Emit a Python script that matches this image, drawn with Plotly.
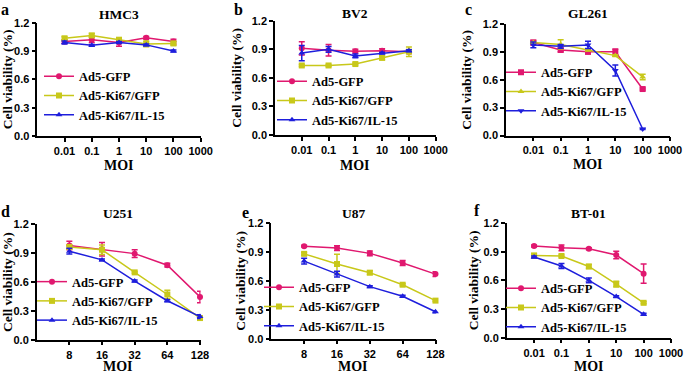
import plotly.graph_objects as go
import math

W, H = 685, 374

# ---------------- data ----------------
moi_log = [0.01, 0.1, 1, 10, 100]
moi_lin = [8, 16, 32, 64, 128]
log_ticks = [0.01, 0.1, 1, 10, 100, 1000]
log_ticktext = ["0.01", "0.1", "1", "10", "100", "1000"]
lin_ticks = [8, 16, 32, 64, 128]
lin_ticktext = ["8", "16", "32", "64", "128"]
y_ticks = [0.0, 0.3, 0.6, 0.9, 1.2]

series_names = ["Ad5-GFP", "Ad5-Ki67/GFP", "Ad5-Ki67/IL-15"]

hmc3_gfp = [1.00, 1.02, 0.99, 1.04, 1.00]
hmc3_gfp_err = [0.02, 0.03, 0.04, 0.015, 0.025]
hmc3_ki67 = [1.035, 1.065, 1.02, 0.975, 0.98]
hmc3_ki67_err = [0.015, 0.02, 0.02, 0.03, 0.02]
hmc3_il15 = [0.99, 0.96, 0.99, 0.965, 0.90]
hmc3_il15_err = [0.015, 0.01, 0.01, 0.01, 0.01]

bv2_gfp = [0.91, 0.89, 0.88, 0.885, 0.875]
bv2_gfp_err = [0.07, 0.06, 0.02, 0.02, 0.02]
bv2_ki67 = [0.73, 0.73, 0.745, 0.81, 0.875]
bv2_ki67_err = [0.01, 0.01, 0.01, 0.02, 0.05]
bv2_il15 = [0.86, 0.90, 0.83, 0.86, 0.885]
bv2_il15_err = [0.08, 0.03, 0.02, 0.01, 0.01]

gl261_gfp = [1.00, 0.92, 0.90, 0.90, 0.50]
gl261_gfp_err = [0.025, 0.02, 0.02, 0.03, 0.01]
gl261_ki67 = [1.00, 0.98, 0.92, 0.86, 0.63]
gl261_ki67_err = [0.01, 0.05, 0.01, 0.01, 0.03]
gl261_il15 = [0.975, 0.96, 0.975, 0.70, 0.07]
gl261_il15_err = [0.03, 0.02, 0.04, 0.06, 0.005]

u251_gfp = [0.98, 0.94, 0.895, 0.775, 0.445]
u251_gfp_err = [0.045, 0.07, 0.04, 0.02, 0.06]
u251_ki67 = [0.965, 0.935, 0.70, 0.47, 0.225]
u251_ki67_err = [0.02, 0.05, 0.01, 0.045, 0.02]
u251_il15 = [0.92, 0.83, 0.61, 0.405, 0.24]
u251_il15_err = [0.03, 0.01, 0.01, 0.01, 0.02]

u87_gfp = [0.96, 0.94, 0.885, 0.785, 0.67]
u87_gfp_err = [0.01, 0.025, 0.025, 0.025, 0.025]
u87_ki67 = [0.88, 0.775, 0.685, 0.56, 0.395]
u87_ki67_err = [0.015, 0.10, 0.02, 0.01, 0.01]
u87_il15 = [0.805, 0.67, 0.54, 0.44, 0.28]
u87_il15_err = [0.03, 0.03, 0.01, 0.01, 0.01]

bt01_gfp = [0.96, 0.94, 0.93, 0.865, 0.67]
bt01_gfp_err = [0.01, 0.03, 0.01, 0.04, 0.10]
bt01_ki67 = [0.86, 0.855, 0.745, 0.56, 0.365]
bt01_ki67_err = [0.02, 0.01, 0.02, 0.03, 0.01]
bt01_il15 = [0.845, 0.75, 0.60, 0.43, 0.245]
bt01_il15_err = [0.01, 0.025, 0.025, 0.01, 0.01]

# ---------------- style ----------------
PINK = "#E0186F"
YELLOW = "#C8C81A"
BLUE = "#1E1EDC"
colors = [PINK, YELLOW, BLUE]
sym_default = ["circle", "square", "triangle-up"]
sym_c = ["square", "triangle-up", "triangle-down"]

SERIF = "Liberation Serif"
SANS = "Liberation Sans"


def px_x(x):
    return x / W


def px_y(y):
    return 1 - y / H


panels = [
    dict(letter="a", title="HMC3", x=moi_log,
         ys=[hmc3_gfp, hmc3_ki67, hmc3_il15], es=[hmc3_gfp_err, hmc3_ki67_err, hmc3_il15_err],
         sym=sym_default, kind="log", box=(37.3, 200.7, 22.7, 136.0), lx=5, ltop=0, ty=14,
         leg=(85, 96.7), ytx=7, mty=165),
    dict(letter="b", title="BV2", x=moi_log,
         ys=[bv2_gfp, bv2_ki67, bv2_il15], es=[bv2_gfp_err, bv2_ki67_err, bv2_il15_err],
         sym=sym_default, kind="log", box=(275.0, 435.7, 20.7, 135.0), lx=238, ltop=0, ty=13.5,
         leg=(318, 101.7), ytx=237, mty=165),
    dict(letter="c", title="GL261", x=moi_log,
         ys=[gl261_gfp, gl261_ki67, gl261_il15], es=[gl261_gfp_err, gl261_ki67_err, gl261_il15_err],
         sym=sym_c, kind="log", box=(506.0, 670.0, 24.0, 135.5), lx=468, ltop=0, ty=13.5,
         leg=(547, 92.7), ytx=467, mty=164),
    dict(letter="d", title="U251", x=moi_lin,
         ys=[u251_gfp, u251_ki67, u251_il15], es=[u251_gfp_err, u251_ki67_err, u251_il15_err],
         sym=sym_default, kind="log2", box=(36.7, 200.0, 224.3, 339.7), lx=5, ltop=202, ty=213.7,
         leg=(78, 302), ytx=7, mty=366),
    dict(letter="e", title="U87", x=moi_lin,
         ys=[u87_gfp, u87_ki67, u87_il15], es=[u87_gfp_err, u87_ki67_err, u87_il15_err],
         sym=sym_default, kind="log2", box=(271.3, 435.5, 223.0, 338.7), lx=245, ltop=203, ty=213.7,
         leg=(305, 307.7), ytx=241, mty=366),
    dict(letter="f", title="BT-01", x=moi_log,
         ys=[bt01_gfp, bt01_ki67, bt01_il15], es=[bt01_gfp_err, bt01_ki67_err, bt01_il15_err],
         sym=sym_default, kind="log", box=(506.7, 671.0, 223.0, 337.7), lx=477, ltop=201, ty=213.7,
         leg=(547, 308.7), ytx=473, mty=366),
]

fig = go.Figure()
annotations = []
layout = {}

EXT = 0.006  # tiny range extension (in log10 units) so the last tick sits safely inside the range

for i, p in enumerate(panels):
    n = i + 1
    xa = "x" if n == 1 else f"x{n}"
    ya = "y" if n == 1 else f"y{n}"
    lg = "legend" if n == 1 else f"legend{n}"
    for k in range(3):
        fig.add_trace(go.Scatter(
            x=p["x"], y=p["ys"][k], name=series_names[k],
            mode="lines+markers",
            line=dict(color=colors[k], width=1.5),
            marker=dict(symbol=p["sym"][k], size=6, color=colors[k]),
            error_y=dict(type="data", array=p["es"][k], visible=True,
                         color=colors[k], thickness=1.5, width=3),
            xaxis=xa, yaxis=ya, legend=lg, showlegend=True, cliponaxis=False,
        ))
    x0, x1, y0, y1 = p["box"]
    if p["kind"] == "log":
        xr = [-3, 3]
        tv, tt = log_ticks, log_ticktext
    else:
        xr = [math.log10(4), math.log10(128)]
        tv, tt = lin_ticks, lin_ticktext
    span = xr[1] - xr[0]
    x1_eff = x0 + (x1 - x0) * (span + EXT) / span
    xr = [xr[0], xr[1] + EXT]
    xkey = "xaxis" if n == 1 else f"xaxis{n}"
    ykey = "yaxis" if n == 1 else f"yaxis{n}"
    layout[xkey] = dict(
        domain=[px_x(x0), px_x(x1_eff)], anchor=ya, type="log", range=xr, automargin=False,
        tickvals=tv, ticktext=tt, ticks="outside", ticklen=4, tickwidth=1.5,
        tickcolor="black", showline=True, linecolor="black", linewidth=1.5,
        showgrid=False, zeroline=False, ticklabeloverflow="allow",
        tickfont=dict(family=SANS, size=11, color="black", weight="bold"),
    )
    layout[ykey] = dict(
        domain=[px_y(y1), px_y(y0)], anchor=xa, range=[0, 1.2], automargin=False,
        tickvals=y_ticks, tickformat=".1f", ticks="outside", ticklen=4, tickwidth=1.5,
        tickcolor="black", showline=True, linecolor="black", linewidth=1.5,
        showgrid=False, zeroline=False, ticklabeloverflow="allow",
        tickfont=dict(family=SANS, size=11, color="black", weight="bold"),
    )
    tx, ty_mid = p["leg"]
    layout[lg] = dict(
        x=px_x(tx - 46), y=px_y(ty_mid - 35), xanchor="left", yanchor="top",
        xref="paper", yref="paper", bgcolor="rgba(0,0,0,0)", borderwidth=0,
        font=dict(family=SERIF, size=12.5, color="black", weight="bold"),
        tracegroupgap=0, itemwidth=30,
    )
    annotations.append(dict(
        text=p["title"], x=px_x((x0 + x1) / 2), y=px_y(p["ty"]), xref="paper", yref="paper",
        xanchor="center", yanchor="middle", showarrow=False,
        font=dict(family=SERIF, size=13.5, color="black", weight="bold")))
    annotations.append(dict(
        text=p["letter"], x=px_x(p["lx"]), y=px_y(p["ltop"]), xref="paper", yref="paper",
        xanchor="center", yanchor="top", showarrow=False, borderpad=0,
        font=dict(family=SERIF, size=16, color="black", weight="bold")))
    annotations.append(dict(
        text="Cell viability (%)", x=px_x(p["ytx"]), y=px_y((y0 + y1) / 2), xref="paper", yref="paper",
        xanchor="center", yanchor="middle", showarrow=False, textangle=-90,
        font=dict(family=SERIF, size=13.5, color="black", weight="bold")))
    annotations.append(dict(
        text="MOI", x=px_x((x0 + x1) / 2), y=px_y(p["mty"]), xref="paper", yref="paper",
        xanchor="center", yanchor="middle", showarrow=False,
        font=dict(family=SERIF, size=14, color="black", weight="bold")))

fig.update_layout(
    width=W, height=H, margin=dict(l=0, r=0, t=0, b=0),
    paper_bgcolor="white", plot_bgcolor="white",
    annotations=annotations, **layout,
)

page_fix = (
    "document.documentElement.style.margin='0';"
    "document.documentElement.style.padding='0';"
    "document.documentElement.style.overflow='hidden';"
    "document.body.style.margin='0';document.body.style.padding='0';"
    "document.body.style.overflow='hidden';"
    "var gd=document.getElementById('{plot_id}');"
    "gd.style.position='absolute';gd.style.left='0px';gd.style.top='0px';"
    "return Plotly.relayout(gd, {width: 685, height: 374});"
)
fig.write_html("out.html", config={"displayModeBar": False}, post_script=page_fix)
